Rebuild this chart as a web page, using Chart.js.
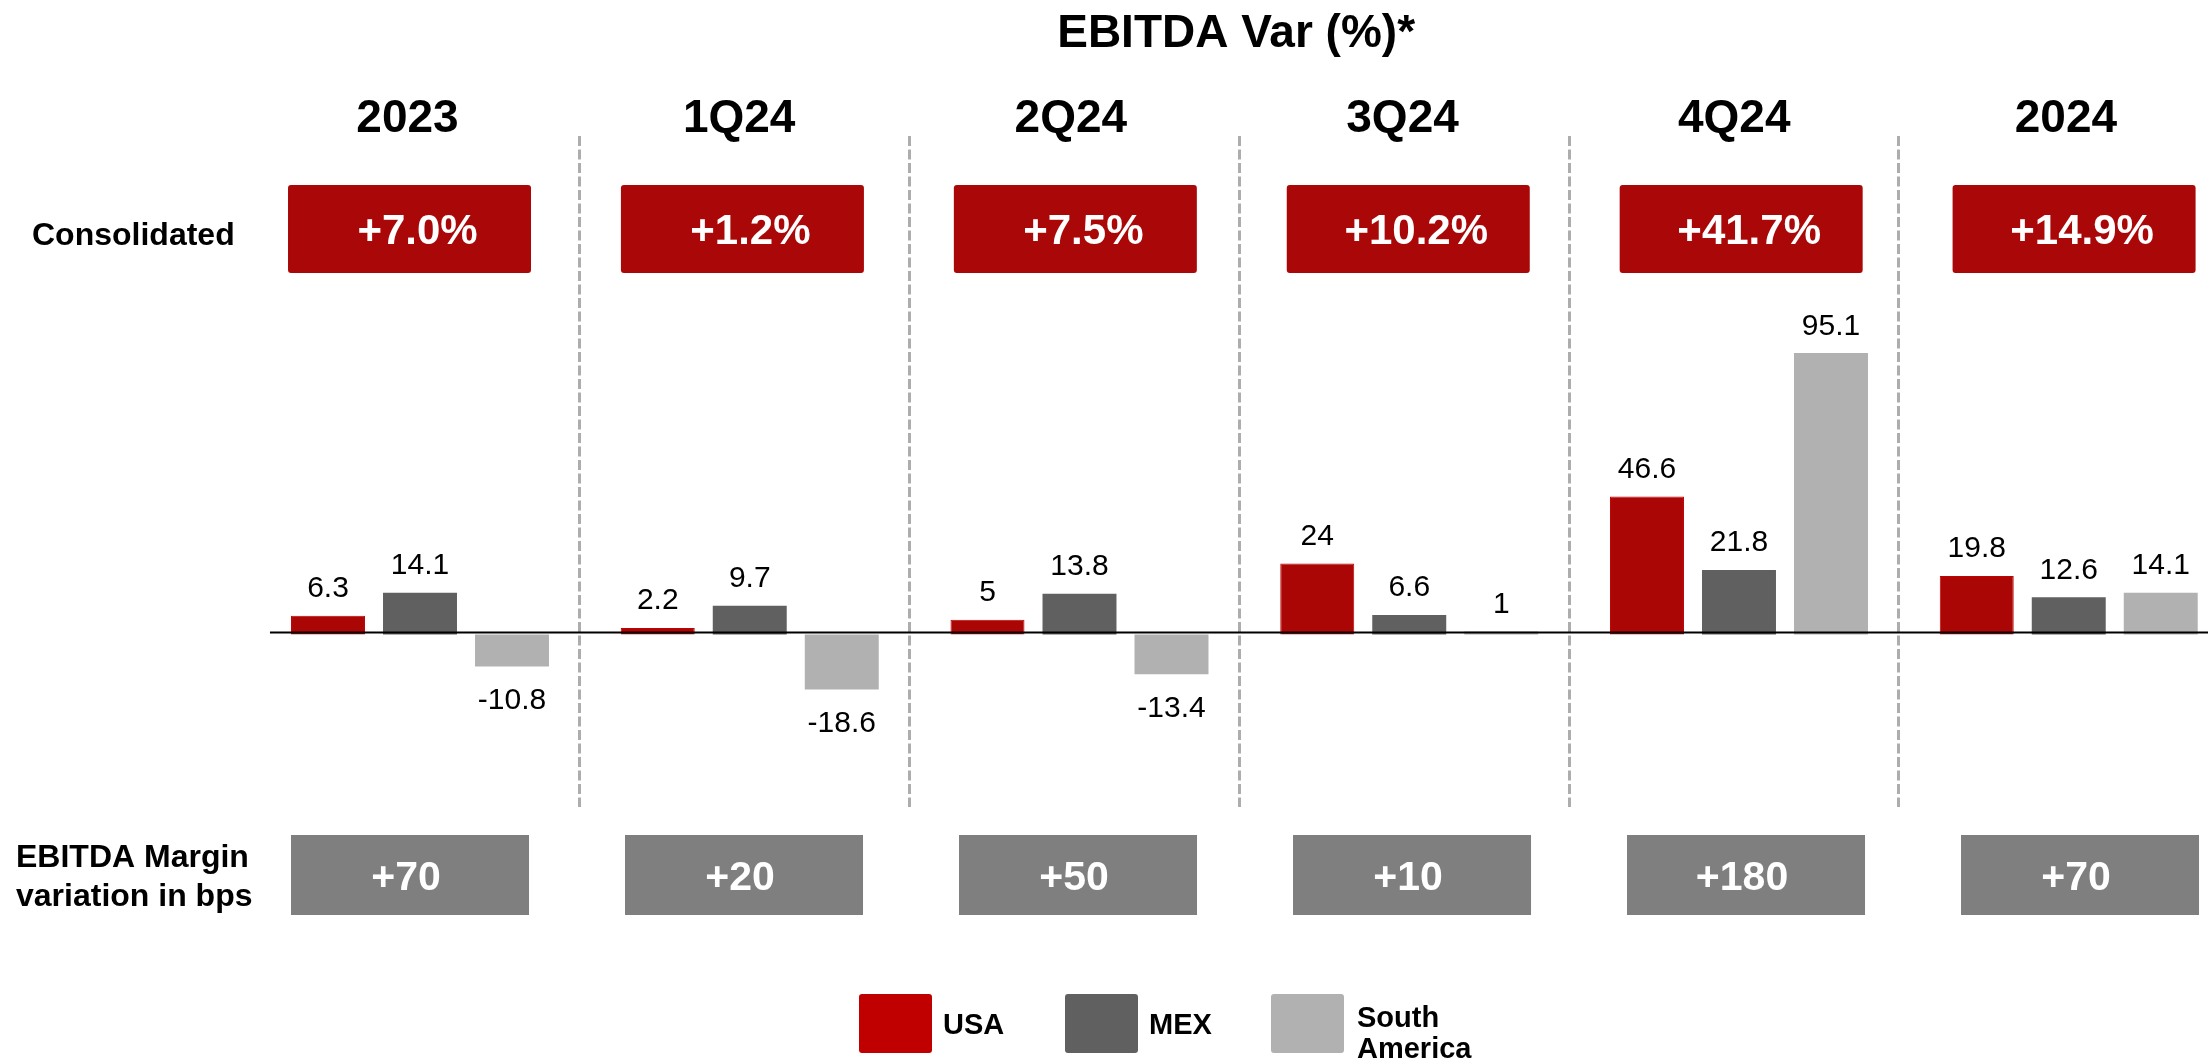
<!DOCTYPE html>
<html>
<head>
<meta charset="utf-8">
<script src="https://cdn.jsdelivr.net/npm/chart.js@4.4.1/dist/chart.umd.min.js"></script>
<style>
  html, body { margin: 0; padding: 0; background: #ffffff; overflow: hidden; }
  canvas { display: block; }
</style>
</head>
<body>
<canvas id="c" width="2208" height="1062"></canvas>
<script>
// ---------------- DATA ----------------
const chartTitle = 'EBITDA Var (%)*';
const periods = ['2023', '1Q24', '2Q24', '3Q24', '4Q24', '2024'];
const seriesNames = ['USA', 'MEX', 'South America'];
const usa = [6.3, 2.2, 5, 24, 46.6, 19.8];
const mex = [14.1, 9.7, 13.8, 6.6, 21.8, 12.6];
const southAmerica = [-10.8, -18.6, -13.4, 1, 95.1, 14.1];
const consolidated = ['+7.0%', '+1.2%', '+7.5%', '+10.2%', '+41.7%', '+14.9%'];
const marginBps = ['+70', '+20', '+50', '+10', '+180', '+70'];
const consolidatedLabel = ['Consolidated'];
const marginLabel = ['EBITDA Margin', 'variation in bps'];

// ---------------- STYLE ----------------
const FONT = '"Liberation Sans", Arial, Helvetica, sans-serif';
const barColors = ['#AB0606', '#606060', '#B1B1B1'];
const legendColors = ['#C00000', '#606060', '#B1B1B1'];
const boxRed = '#AA0808';
const boxGray = '#7F7F7F';

function roundRect(ctx, x, y, w, h, r) {
  ctx.beginPath();
  ctx.moveTo(x + r, y);
  ctx.lineTo(x + w - r, y);
  ctx.quadraticCurveTo(x + w, y, x + w, y + r);
  ctx.lineTo(x + w, y + h - r);
  ctx.quadraticCurveTo(x + w, y + h, x + w - r, y + h);
  ctx.lineTo(x + r, y + h);
  ctx.quadraticCurveTo(x, y + h, x, y + h - r);
  ctx.lineTo(x, y + r);
  ctx.quadraticCurveTo(x, y, x + r, y);
  ctx.closePath();
}

const overlay = {
  id: 'overlay',
  beforeDatasetsDraw(chart) {
    const { ctx, scales: { x } } = chart;
    ctx.save();
    // dashed separators between periods
    ctx.strokeStyle = '#ADADAD';
    ctx.lineWidth = 3;
    ctx.setLineDash([10, 3.5]);
    for (let i = 0; i < periods.length - 1; i++) {
      const px = Math.round(x.getPixelForValue(i + 0.4833)) + 0.5;
      ctx.beginPath();
      ctx.moveTo(px, 136);
      ctx.lineTo(px, 807);
      ctx.stroke();
    }
    ctx.restore();
  },
  afterDatasetsDraw(chart) {
    const { ctx, scales: { x, y } } = chart;
    ctx.save();
    // zero line
    const zeroY = y.getPixelForValue(0) - 2;
    ctx.strokeStyle = '#000000';
    ctx.lineWidth = 2;
    ctx.beginPath();
    ctx.moveTo(x.getPixelForValue(-0.455), zeroY);
    ctx.lineTo(chart.width, zeroY);
    ctx.stroke();

    // value labels
    ctx.font = '30px ' + FONT;
    ctx.fillStyle = '#000000';
    ctx.textAlign = 'center';
    ctx.textBaseline = 'alphabetic';
    chart.data.datasets.forEach((ds, di) => {
      chart.getDatasetMeta(di).data.forEach((bar, i) => {
        const v = ds.data[i].y;
        const top = Math.min(bar.y, bar.base);
        const bottom = Math.max(bar.y, bar.base);
        if (v >= 0) ctx.fillText(String(v), bar.x, top - 18.5);
        else ctx.fillText(String(v), bar.x, bottom + 42.5);
      });
    });

    // title
    ctx.font = 'bold 46px ' + FONT;
    ctx.fillText(chartTitle, x.getPixelForValue(2.475), 47);

    // period headers
    periods.forEach((p, i) => {
      ctx.fillText(p, x.getPixelForValue(i * 1.0059 - 0.038), 132);
    });

    // consolidated red boxes
    consolidated.forEach((t, i) => {
      const cx = x.getPixelForValue(i * 1.0096 - 0.0318);
      const w = 243, h = 88, top = 185;
      ctx.fillStyle = boxRed;
      roundRect(ctx, cx - w / 2, top, w, h, 3);
      ctx.fill();
      ctx.fillStyle = '#FFFFFF';
      ctx.font = 'bold 42px ' + FONT;
      ctx.fillText(t, cx + 8, 244);
    });

    // EBITDA margin gray boxes
    marginBps.forEach((t, i) => {
      const cx = x.getPixelForValue(i * 1.0129 - 0.0303);
      const w = 238, h = 80, top = 835;
      ctx.fillStyle = boxGray;
      ctx.fillRect(cx - w / 2, top, w, h);
      ctx.fillStyle = '#FFFFFF';
      ctx.font = 'bold 41px ' + FONT;
      ctx.fillText(t, cx - 4, 890);
    });

    // row labels
    ctx.fillStyle = '#000000';
    ctx.textAlign = 'left';
    ctx.font = 'bold 32px ' + FONT;
    ctx.fillText(consolidatedLabel[0], 32, 245);
    ctx.fillText(marginLabel[0], 16, 867);
    ctx.fillText(marginLabel[1], 16, 906);

    // legend
    ctx.font = 'bold 29px ' + FONT;
    chart.data.datasets.forEach((ds, di) => {
      const left = 859 + di * 206;
      ctx.fillStyle = legendColors[di];
      roundRect(ctx, left, 994, 73, 59, 3);
      ctx.fill();
      ctx.fillStyle = '#000000';
      const words = ds.label.split(' ');
      if (words.length === 1) {
        ctx.fillText(ds.label, left + 84, 1034);
      } else {
        ctx.fillText(words[0], left + 86, 1027);
        ctx.fillText(words.slice(1).join(' '), left + 86, 1058);
      }
    });
    ctx.restore();
  }
};

const toPoints = arr => arr.map((v, i) => ({ x: i, y: v }));

new Chart(document.getElementById('c'), {
  type: 'bar',
  data: {
    datasets: [
      { label: seriesNames[0], data: toPoints(usa), backgroundColor: barColors[0], borderColor: '#C40000', borderWidth: 1 },
      { label: seriesNames[1], data: toPoints(mex), backgroundColor: barColors[1], borderWidth: 0 },
      { label: seriesNames[2], data: toPoints(southAmerica), backgroundColor: barColors[2], borderWidth: 0 }
    ]
  },
  options: {
    responsive: false,
    animation: false,
    devicePixelRatio: 1,
    layout: { padding: 0, autoPadding: false },
    datasets: { bar: { categoryPercentage: 0.837, barPercentage: 0.804 } },
    plugins: { legend: { display: false }, title: { display: false }, tooltip: { enabled: false } },
    scales: {
      x: {
        type: 'linear', display: false, offset: false, grid: { offset: false },
        min: -1.2737, max: 5.4223,
        afterBuildTicks: s => { s.ticks = periods.map((p, i) => ({ value: i })); }
      },
      y: { display: false, min: -144.43, max: 214.36 }
    }
  },
  plugins: [overlay]
});
</script>
</body>
</html>
